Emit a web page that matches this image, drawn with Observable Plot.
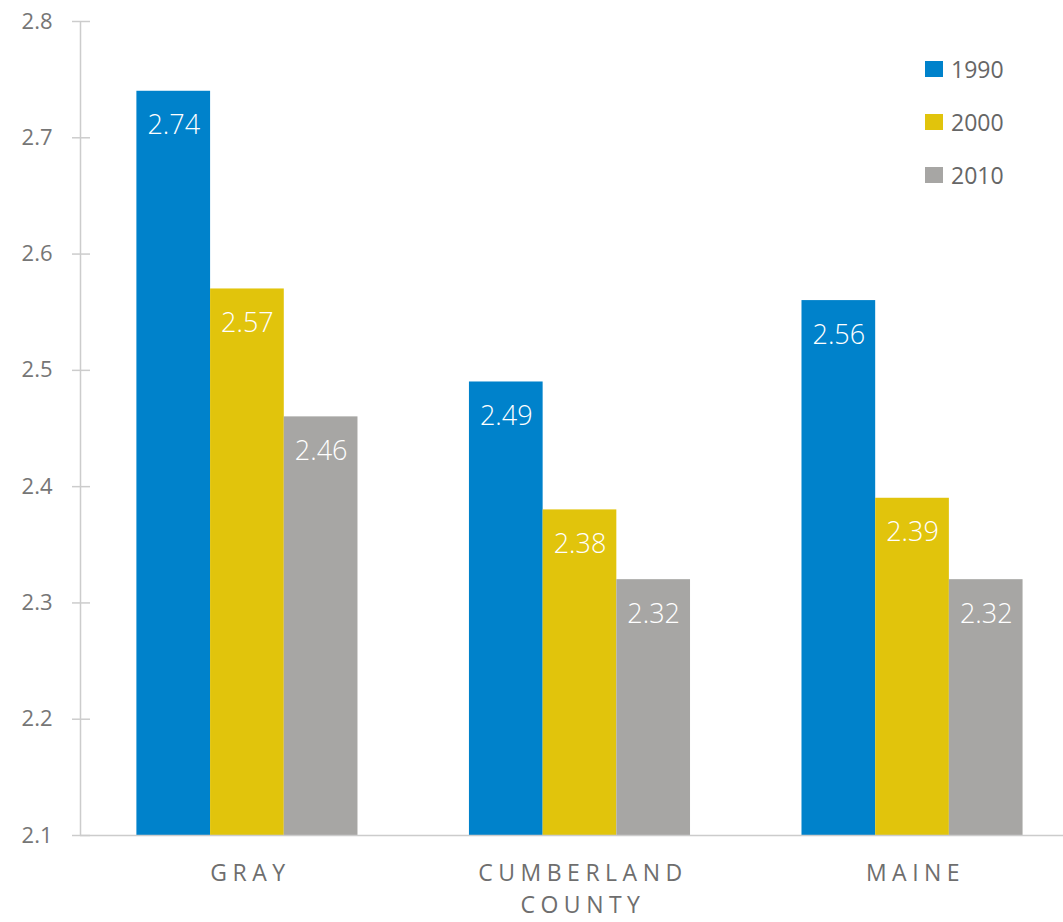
<!DOCTYPE html>
<html>
<head>
<meta charset="utf-8">
<script src="https://cdn.jsdelivr.net/npm/d3@7"></script>
<script src="https://cdn.jsdelivr.net/npm/@observablehq/plot@0.6"></script>
<style>
  html, body { margin: 0; padding: 0; background: #fff; }
  #wrap { position: relative; width: 1063px; height: 922px; font-family: "Open Sans", "Noto Sans", sans-serif; }
  #legend { position: absolute; left: 925px; top: 42px; }
  .li { display: flex; align-items: center; height: 53px; font-size: 23px; color: #666; }
  .sw { width: 18px; height: 16px; margin-right: 8px; }
  g[aria-label="x-axis tick label"] text { letter-spacing: 5.5px; }
</style>
</head>
<body>
<div id="wrap"><div id="legend"></div></div>
<script>
const groups = ["GRAY", "CUMBERLAND\nCOUNTY", "MAINE"];
const years = ["1990", "2000", "2010"];
const v1990 = [2.74, 2.49, 2.56];
const v2000 = [2.57, 2.38, 2.39];
const v2010 = [2.46, 2.32, 2.32];
const colors = ["#0082CB", "#E1C40C", "#A7A6A4"];
const yTicks = [2.1, 2.2, 2.3, 2.4, 2.5, 2.6, 2.7, 2.8];
const yDomain = [2.1, 2.8];

const series = [v1990, v2000, v2010];
const barW = 0.2216;
const xDomain = [-0.502, 2.454];
const data = [];
groups.forEach((g, i) => {
  years.forEach((yr, j) => {
    const x1 = i + (j - 1.5) * barW;
    data.push({group: g, gi: i, year: yr, value: series[j][i], x1, x2: x1 + barW, xc: x1 + barW / 2});
  });
});

const chart = Plot.plot({
  width: 1063,
  height: 922,
  marginLeft: 80,
  marginRight: 0,
  marginTop: 21,
  marginBottom: 87,
  style: {fontFamily: "Open Sans, Noto Sans, sans-serif", background: "#fff"},
  x: {type: "linear", domain: xDomain, axis: null},
  y: {domain: yDomain, axis: null},
  color: {domain: years, range: colors},
  marks: [
    Plot.rectY(data, {x1: "x1", x2: "x2", y1: yDomain[0], y2: "value", fill: "year"}),
    Plot.ruleY([yDomain[0]], {stroke: "#cccccc", strokeWidth: 1.5}),
    Plot.ruleX([xDomain[0]], {y1: yDomain[0], y2: yDomain[1], stroke: "#cccccc", strokeWidth: 1.5}),
    Plot.axisY({ticks: yTicks, tickSize: 8, tickPadding: 20, stroke: "#cccccc", strokeWidth: 1.5, fontSize: 22, fill: "#767676", tickFormat: d3.format(".1f"), label: null}),
    Plot.axisY({ticks: yTicks, tickSize: -10, text: null, stroke: "#cccccc", strokeWidth: 1.5, label: null}),
    Plot.axisX({ticks: [0, 1, 2], tickFormat: i => groups[i], tickSize: 0, tickPadding: 22, fontSize: 23, fill: "#6e6e6e", label: null, lineHeight: 1.42, dx: 3}),
    Plot.text(data, {x: "xc", y: "value", text: d => d.value.toFixed(2), fill: "white", fontSize: 27, lineAnchor: "top", dy: 24, fontWeight: 300})
  ]
});
document.getElementById("wrap").prepend(chart);

const legend = document.getElementById("legend");
years.forEach((yr, j) => {
  const row = document.createElement("div");
  row.className = "li";
  row.innerHTML = `<div class="sw" style="background:${colors[j]}"></div><span>${yr}</span>`;
  legend.appendChild(row);
});
</script>
</body>
</html>
